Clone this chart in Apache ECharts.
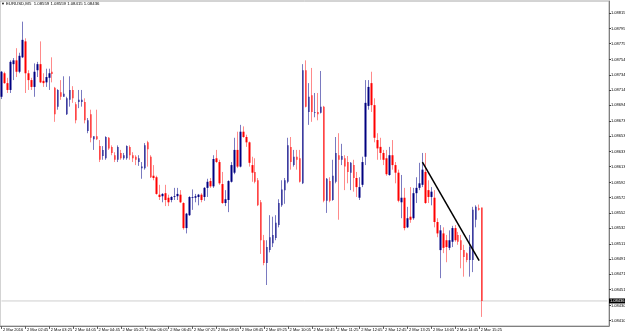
<!DOCTYPE html>
<html><head><meta charset="utf-8">
<script src="https://cdn.jsdelivr.net/npm/echarts@6/dist/echarts.min.js"></script>
<style>html,body{margin:0;padding:0;background:#fff}#c{width:625px;height:333px}</style>
</head><body><div id="c"></div>
<script>
const symbolTitle = 'EURUSD,M5';
const headerValues = ['1.08559', '1.08559', '1.08415', '1.08436'];
const timeLabels = ['2 Mar 2016','2 Mar 02:45','2 Mar 03:25','2 Mar 04:05','2 Mar 04:45','2 Mar 05:25','2 Mar 06:05','2 Mar 06:45','2 Mar 07:25','2 Mar 08:05','2 Mar 08:45','2 Mar 09:25','2 Mar 10:05','2 Mar 10:45','2 Mar 11:25','2 Mar 12:05','2 Mar 12:45','2 Mar 13:25','2 Mar 14:05','2 Mar 14:45','2 Mar 15:25'];
const barsPerLabel = 8;
const priceTicks = ['1.08815','1.08795','1.08775','1.08754','1.08734','1.08714','1.08694','1.08673','1.08653','1.08633','1.08613','1.08592','1.08572','1.08552','1.08532','1.08511','1.08491','1.08471','1.08451','1.08430','1.08410'];
const priceMin = 1.08403, priceMax = 1.088312;
const lastPrice = 1.08436;
const trendLine = [[141, 1.08619], [160, 1.08489]];
const emptyBars = 42;
// [open, close, low, high]
const candles = [
[1.08705,1.08738,1.08702,1.08739],
[1.08736,1.08723,1.08722,1.08738],
[1.08723,1.08714,1.08710,1.08730],
[1.08714,1.08751,1.08710,1.08753],
[1.08748,1.08753,1.08727,1.08756],
[1.08753,1.08738,1.08731,1.08769],
[1.08738,1.08759,1.08736,1.08763],
[1.08757,1.08780,1.08756,1.08804],
[1.08778,1.08736,1.08710,1.08782],
[1.08736,1.08727,1.08714,1.08740],
[1.08727,1.08718,1.08714,1.08730],
[1.08718,1.08738,1.08705,1.08749],
[1.08740,1.08748,1.08731,1.08751],
[1.08748,1.08724,1.08723,1.08778],
[1.08726,1.08723,1.08718,1.08736],
[1.08724,1.08731,1.08718,1.08742],
[1.08730,1.08736,1.08714,1.08742],
[1.08738,1.08735,1.08724,1.08757],
[1.08717,1.08682,1.08672,1.08718],
[1.08692,1.08714,1.08688,1.08715],
[1.08711,1.08705,1.08701,1.08727],
[1.08705,1.08709,1.08705,1.08732],
[1.08682,1.08703,1.08681,1.08705],
[1.08701,1.08714,1.08692,1.08732],
[1.08714,1.08703,1.08697,1.08719],
[1.08695,1.08674,1.08670,1.08698],
[1.08698,1.08701,1.08690,1.08714],
[1.08698,1.08701,1.08692,1.08714],
[1.08698,1.08674,1.08670,1.08703],
[1.08660,1.08674,1.08657,1.08677],
[1.08682,1.08651,1.08645,1.08688],
[1.08649,1.08653,1.08635,1.08653],
[1.08653,1.08649,1.08648,1.08688],
[1.08640,1.08622,1.08619,1.08648],
[1.08627,1.08635,1.08622,1.08640],
[1.08624,1.08652,1.08622,1.08653],
[1.08651,1.08637,1.08635,1.08652],
[1.08639,1.08631,1.08628,1.08641],
[1.08628,1.08622,1.08619,1.08632],
[1.08622,1.08639,1.08619,1.08641],
[1.08631,1.08624,1.08622,1.08635],
[1.08624,1.08628,1.08622,1.08631],
[1.08624,1.08640,1.08622,1.08641],
[1.08639,1.08628,1.08622,1.08641],
[1.08628,1.08624,1.08619,1.08632],
[1.08626,1.08622,1.08615,1.08628],
[1.08619,1.08624,1.08614,1.08628],
[1.08611,1.08613,1.08597,1.08619],
[1.08611,1.08641,1.08609,1.08644],
[1.08645,1.08636,1.08613,1.08647],
[1.08626,1.08599,1.08598,1.08628],
[1.08601,1.08598,1.08595,1.08615],
[1.08599,1.08577,1.08576,1.08601],
[1.08576,1.08573,1.08569,1.08589],
[1.08574,1.08577,1.08566,1.08578],
[1.08578,1.08569,1.08561,1.08589],
[1.08572,1.08566,1.08561,1.08576],
[1.08569,1.08573,1.08566,1.08574],
[1.08573,1.08574,1.08569,1.08585],
[1.08574,1.08577,1.08569,1.08585],
[1.08576,1.08566,1.08565,1.08582],
[1.08565,1.08532,1.08530,1.08566],
[1.08532,1.08551,1.08525,1.08552],
[1.08549,1.08573,1.08548,1.08574],
[1.08572,1.08573,1.08556,1.08583],
[1.08572,1.08574,1.08566,1.08577],
[1.08573,1.08576,1.08562,1.08577],
[1.08576,1.08569,1.08566,1.08578],
[1.08573,1.08585,1.08568,1.08586],
[1.08585,1.08593,1.08573,1.08597],
[1.08594,1.08587,1.08585,1.08598],
[1.08587,1.08623,1.08585,1.08628],
[1.08624,1.08619,1.08618,1.08635],
[1.08619,1.08591,1.08589,1.08622],
[1.08590,1.08565,1.08564,1.08606],
[1.08565,1.08570,1.08561,1.08582],
[1.08569,1.08594,1.08553,1.08595],
[1.08593,1.08615,1.08592,1.08619],
[1.08605,1.08635,1.08603,1.08651],
[1.08635,1.08613,1.08611,1.08659],
[1.08613,1.08659,1.08612,1.08668],
[1.08659,1.08652,1.08651,1.08666],
[1.08652,1.08645,1.08639,1.08655],
[1.08645,1.08618,1.08613,1.08646],
[1.08615,1.08605,1.08593,1.08626],
[1.08606,1.08593,1.08591,1.08624],
[1.08595,1.08562,1.08561,1.08598],
[1.08566,1.08516,1.08498,1.08569],
[1.08516,1.08486,1.08483,1.08523],
[1.08486,1.08507,1.08457,1.08516],
[1.08503,1.08520,1.08500,1.08549],
[1.08512,1.08523,1.08507,1.08547],
[1.08519,1.08539,1.08516,1.08549],
[1.08536,1.08565,1.08533,1.08570],
[1.08562,1.08583,1.08560,1.08595],
[1.08582,1.08595,1.08564,1.08598],
[1.08593,1.08641,1.08591,1.08651],
[1.08639,1.08619,1.08609,1.08652],
[1.08615,1.08626,1.08613,1.08635],
[1.08626,1.08622,1.08609,1.08635],
[1.08624,1.08593,1.08592,1.08635],
[1.08591,1.08740,1.08590,1.08748],
[1.08740,1.08692,1.08691,1.08753],
[1.08685,1.08705,1.08668,1.08723],
[1.08707,1.08685,1.08672,1.08743],
[1.08684,1.08685,1.08678,1.08710],
[1.08685,1.08682,1.08674,1.08710],
[1.08684,1.08692,1.08683,1.08739],
[1.08692,1.08568,1.08566,1.08693],
[1.08568,1.08597,1.08552,1.08598],
[1.08594,1.08568,1.08566,1.08599],
[1.08569,1.08601,1.08568,1.08622],
[1.08593,1.08631,1.08591,1.08652],
[1.08628,1.08622,1.08543,1.08657],
[1.08622,1.08627,1.08615,1.08643],
[1.08624,1.08613,1.08582,1.08628],
[1.08619,1.08606,1.08591,1.08627],
[1.08605,1.08618,1.08582,1.08619],
[1.08615,1.08598,1.08580,1.08622],
[1.08598,1.08586,1.08573,1.08606],
[1.08572,1.08586,1.08569,1.08599],
[1.08589,1.08619,1.08586,1.08626],
[1.08626,1.08697,1.08615,1.08727],
[1.08693,1.08718,1.08688,1.08727],
[1.08723,1.08694,1.08685,1.08738],
[1.08694,1.08651,1.08645,1.08703],
[1.08648,1.08637,1.08622,1.08657],
[1.08639,1.08631,1.08622,1.08651],
[1.08631,1.08622,1.08615,1.08635],
[1.08624,1.08603,1.08601,1.08635],
[1.08602,1.08628,1.08601,1.08639],
[1.08628,1.08615,1.08609,1.08648],
[1.08615,1.08605,1.08591,1.08619],
[1.08605,1.08568,1.08566,1.08609],
[1.08566,1.08572,1.08545,1.08602],
[1.08572,1.08532,1.08529,1.08585],
[1.08533,1.08545,1.08532,1.08560],
[1.08547,1.08543,1.08539,1.08586],
[1.08545,1.08578,1.08543,1.08585],
[1.08578,1.08585,1.08565,1.08599],
[1.08585,1.08591,1.08582,1.08618],
[1.08589,1.08609,1.08586,1.08631],
[1.08606,1.08565,1.08564,1.08631],
[1.08582,1.08573,1.08565,1.08595],
[1.08573,1.08580,1.08562,1.08586],
[1.08572,1.08540,1.08533,1.08582],
[1.08540,1.08525,1.08520,1.08545],
[1.08503,1.08529,1.08466,1.08536],
[1.08525,1.08506,1.08499,1.08533],
[1.08516,1.08507,1.08487,1.08523],
[1.08506,1.08516,1.08503,1.08529],
[1.08514,1.08532,1.08507,1.08535],
[1.08532,1.08516,1.08514,1.08536],
[1.08523,1.08514,1.08510,1.08527],
[1.08516,1.08503,1.08479,1.08523],
[1.08503,1.08494,1.08468,1.08510],
[1.08499,1.08490,1.08487,1.08500],
[1.08490,1.08507,1.08468,1.08523],
[1.08490,1.08556,1.08474,1.08560],
[1.08543,1.08560,1.08533,1.08562],
[1.08558,1.08556,1.08555,1.08563],
[1.08559,1.08436,1.08415,1.08559]
];

const cats = [];
for (let i = 0; i < candles.length + emptyBars; i++) cats.push(String(i));
const bodyData = candles.map(c => [c[0], c[1], Math.min(c[0], c[1]), Math.max(c[0], c[1])]);
const showLabel = (idx) => idx % barsPerLabel === 0 && idx / barsPerLabel < timeLabels.length;
const FONT = 'Liberation Sans, Arial, sans-serif';

const chart = echarts.init(document.getElementById('c'), null, {renderer: 'canvas'});
chart.setOption({
  animation: false,
  backgroundColor: '#ffffff',
  textStyle: {fontFamily: FONT},
  graphic: [
    {type: 'text', left: 1, top: 2, style: {text: '▼', fontSize: 4, fill: '#000'}},
    {type: 'text', left: 6, top: 2, style: {text: symbolTitle + '  ' + headerValues.join(' '), fontSize: 4.3, fill: '#000', fontFamily: FONT}}
  ],
  grid: {left: 0, right: 16, top: 1, bottom: 7, show: true, borderColor: '#a8a8a8', borderWidth: 1, backgroundColor: '#fff', outerBoundsMode: 'none', containLabel: false},
  xAxis: {
    type: 'category', data: cats, boundaryGap: true,
    axisLine: {show: true, lineStyle: {color: '#808080', width: 1}},
    axisTick: {show: true, alignWithLabel: true, interval: (i) => showLabel(i), length: 3, lineStyle: {color: '#606060'}},
    axisLabel: {show: true, interval: (i) => showLabel(i), formatter: (v, i) => timeLabels[i / barsPerLabel],
      align: 'left', fontSize: 4, color: '#000', margin: 2, padding: [0, 0, 0, 1.5],
      showMinLabel: true, showMaxLabel: true, hideOverlap: false},
    splitLine: {show: false}
  },
  yAxis: [
    {
      type: 'value', position: 'right', min: priceMin, max: priceMax, scale: true,
      axisLine: {show: true, lineStyle: {color: '#808080', width: 1}},
      axisTick: {show: true, length: 2, inside: false, customValues: priceTicks.map(Number), lineStyle: {color: '#404040'}},
      axisLabel: {show: true, customValues: priceTicks.map(Number), formatter: (v) => Number(v).toFixed(5), fontSize: 4, color: '#000', margin: 2},
      splitLine: {show: false}
    },
    {
      type: 'value', position: 'right', min: priceMin, max: priceMax, scale: true,
      axisLine: {show: false}, axisTick: {show: false}, splitLine: {show: false},
      axisLabel: {show: true, customValues: [lastPrice], formatter: (v) => Number(v).toFixed(5), fontSize: 4,
        color: '#fff', backgroundColor: '#000', padding: [1, 1, 0, 1], margin: 0}
    }
  ],
  series: [
    {
      type: 'line', name: 'bid', data: [[0, lastPrice], [cats.length - 1, lastPrice]], symbol: 'none',
      lineStyle: {color: '#cfcfcf', width: 1}, silent: true, z: 1
    },
    {
      type: 'candlestick', name: 'wick', data: candles, barWidth: 1, z: 2,
      itemStyle: {color: '#7a7ac0', color0: '#ff8a8a', borderColor: '#7a7ac0', borderColor0: '#ff8a8a', borderWidth: 1},
      markLine: {
        silent: true, symbol: 'none', animation: false,
        data: [
          [
            {coord: [String(trendLine[0][0]), trendLine[0][1]], lineStyle: {color: '#000', type: 'solid', width: 1.5}, label: {show: false}},
            {coord: [String(trendLine[1][0]), trendLine[1][1]]}
          ]
        ]
      }
    },
    {
      type: 'candlestick', name: 'body', data: bodyData, barWidth: 2, z: 3,
      itemStyle: {color: '#000080', color0: '#ff0000', borderColor: '#000080', borderColor0: '#ff0000', borderWidth: 0}
    }
  ]
});
</script>
</body></html>
